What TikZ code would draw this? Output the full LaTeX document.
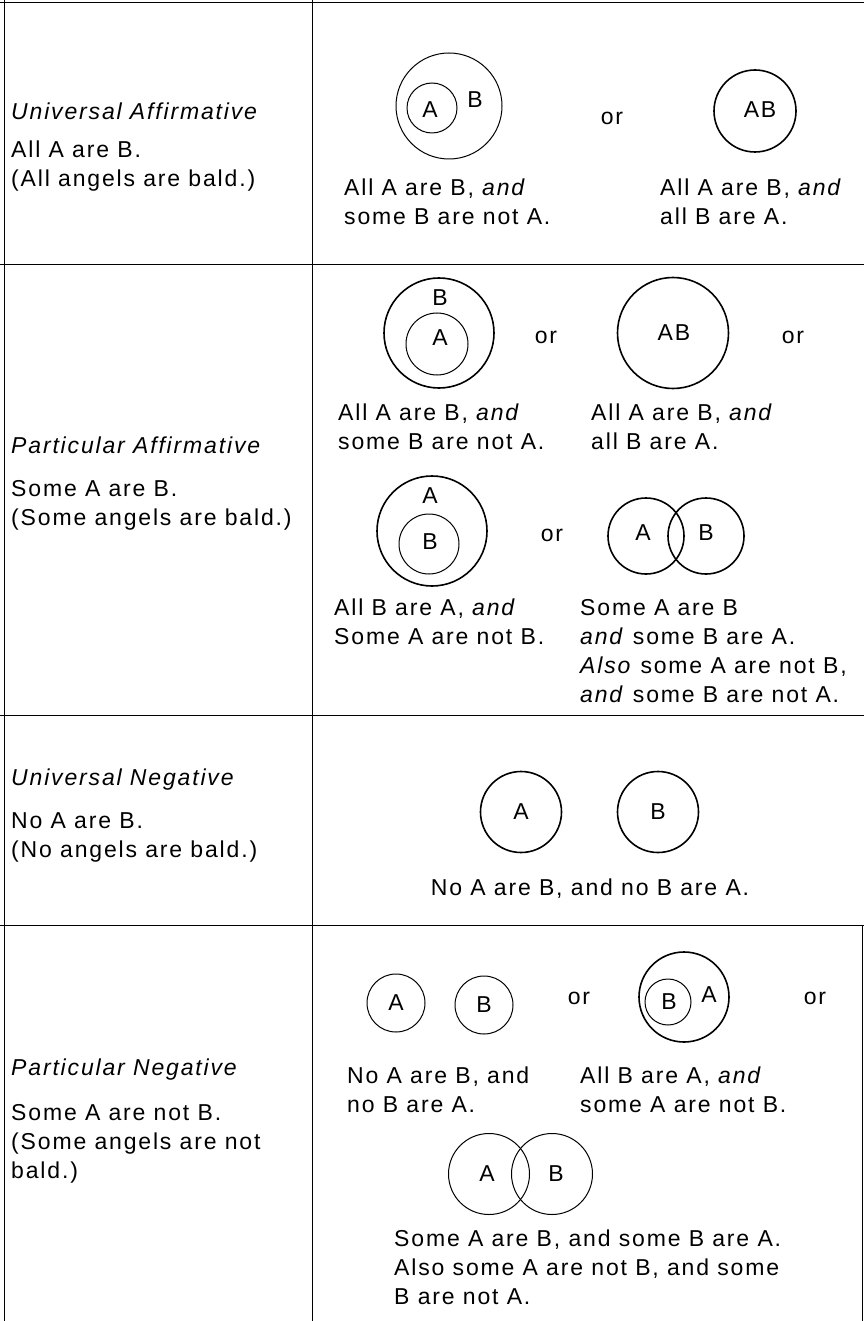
\documentclass[tikz,border=0pt]{standalone}
\usepackage{fontspec}
\setmainfont[LetterSpace=8]{Liberation Sans}
\begin{document}
\begin{tikzpicture}[x=1pt, y=-1pt,
    every node/.style={font=\fontsize{23}{29}\selectfont},
    venn/.style={circle, draw, line width=1.6pt, minimum size=#1, inner sep=0pt},
    thinvenn/.style={venn=#1, line width=1pt},
    txt/.style={anchor=base west, align=left, inner sep=0pt},
    lbl/.style={inner sep=0pt}]
    \useasboundingbox (0,0) rectangle (864,1321);
    % table rules
    \draw[line width=1pt] (0,3) -- (864,3);
    \draw[line width=1pt] (4,0) -- (4,1321);
    \draw[line width=1pt] (312,0) -- (312,1321);
    \draw[line width=1pt] (0,265) -- (864,265);
    \draw[line width=1pt] (0,715) -- (864,715);
    \draw[line width=1pt] (0,925) -- (864,925);
    \draw[line width=1pt] (862,925) -- (862,1321);
    % left column (base = last line)
    \node[txt] (ua) at (11,120) {\itshape Universal Affirmative};
    \node[txt] (uas) at (11,187) {All A are B.\\(All angels are bald.)};
    \node[txt] (pa) at (11,453) {\itshape Particular Affirmative};
    \node[txt] (pas) at (11,525) {Some A are B.\\(Some angels are bald.)};
    \node[txt] (un) at (11,785) {\itshape Universal Negative};
    \node[txt] (uns) at (11,857) {No A are B.\\(No angels are bald.)};
    \node[txt] (pn) at (11,1075) {\itshape Particular Negative};
    \node[txt] (pns) at (11,1178) {Some A are not B.\\(Some angels are not\\bald.)};
    % universal affirmative
    \node[thinvenn=106] (uaB) at (449,106) {};
    \node[thinvenn=50] (uaA) at (432,108) {};
    \node[lbl] (uaAl) at (430,110) {A};
    \node[lbl] (uaBl) at (475,100) {B};
    \node[lbl] (uaor) at (612,118) {or};
    \node[venn=82] (uaAB) at (755,111) {};
    \node[lbl] (uaABl) at (760,110) {AB};
    \node[txt] (uac1) at (344,225) {All A are B, \textit{and}\\some B are not A.};
    \node[txt] (uac2) at (660,225) {All A are B, \textit{and}\\all B are A.};
    % particular affirmative
    \node[venn=110] (paB) at (439,333) {};
    \node[thinvenn=62] (paA) at (437,344) {};
    \node[lbl] (paBl) at (440,298) {B};
    \node[lbl] (paAl) at (440,338) {A};
    \node[lbl] (paor1) at (546,337) {or};
    \node[venn=111] (paAB) at (673,333) {};
    \node[lbl] (paABl) at (674,333) {AB};
    \node[lbl] (paor2) at (793,337) {or};
    \node[txt] (pac1) at (338,449) {All A are B, \textit{and}\\some B are not A.};
    \node[txt] (pac2) at (591,449) {All A are B, \textit{and}\\all B are A.};
    \node[venn=110] (paA2) at (432,531) {};
    \node[thinvenn=60] (paB2) at (429,544) {};
    \node[lbl] (paA2l) at (430,496) {A};
    \node[lbl] (paB2l) at (430,542) {B};
    \node[lbl] (paor3) at (552,535) {or};
    \node[venn=76] (paA3) at (646,536) {};
    \node[venn=76] (paB3) at (706,536) {};
    \node[lbl] (paA3l) at (643,533) {A};
    \node[lbl] (paB3l) at (706,533) {B};
    \node[txt] (pac3) at (334,644) {All B are A, \textit{and}\\Some A are not B.};
    \node[txt] (pac4) at (580,702) {Some A are B\\\textit{and} some B are A.\\\textit{Also} some A are not B,\\\textit{and} some B are not A.};
    % universal negative
    \node[venn=81] (unA) at (521,812) {};
    \node[venn=81] (unB) at (658,812) {};
    \node[lbl] (unAl) at (521,812) {A};
    \node[lbl] (unBl) at (658,812) {B};
    \node[anchor=base, inner sep=0pt] (unc) at (590,895) {No A are B, and no B are A.};
    % particular negative
    \node[thinvenn=58] (pnA) at (396,1003) {};
    \node[thinvenn=58] (pnB) at (484,1005) {};
    \node[lbl] (pnAl) at (396,1003) {A};
    \node[lbl] (pnBl) at (484,1005) {B};
    \node[lbl] (pnor1) at (579,998) {or};
    \node[venn=90] (pnA2) at (684,997) {};
    \node[thinvenn=46] (pnB2) at (668,1002) {};
    \node[lbl] (pnB2l) at (669,1002) {B};
    \node[lbl] (pnA2l) at (709,995) {A};
    \node[lbl] (pnor2) at (815,998) {or};
    \node[txt] (pnc1) at (347,1112) {No A are B, and\\no B are A.};
    \node[txt] (pnc2) at (580,1112) {All B are A, \textit{and}\\some A are not B.};
    \node[thinvenn=81] (pnA3) at (489,1174) {};
    \node[thinvenn=81] (pnB3) at (552,1174) {};
    \node[lbl] (pnA3l) at (487,1174) {A};
    \node[lbl] (pnB3l) at (556,1174) {B};
    \node[txt] (pnc3) at (394,1304) {Some A are B, and some B are A.\\Also some A are not B, and some\\B are not A.};
\end{tikzpicture}
\end{document}
